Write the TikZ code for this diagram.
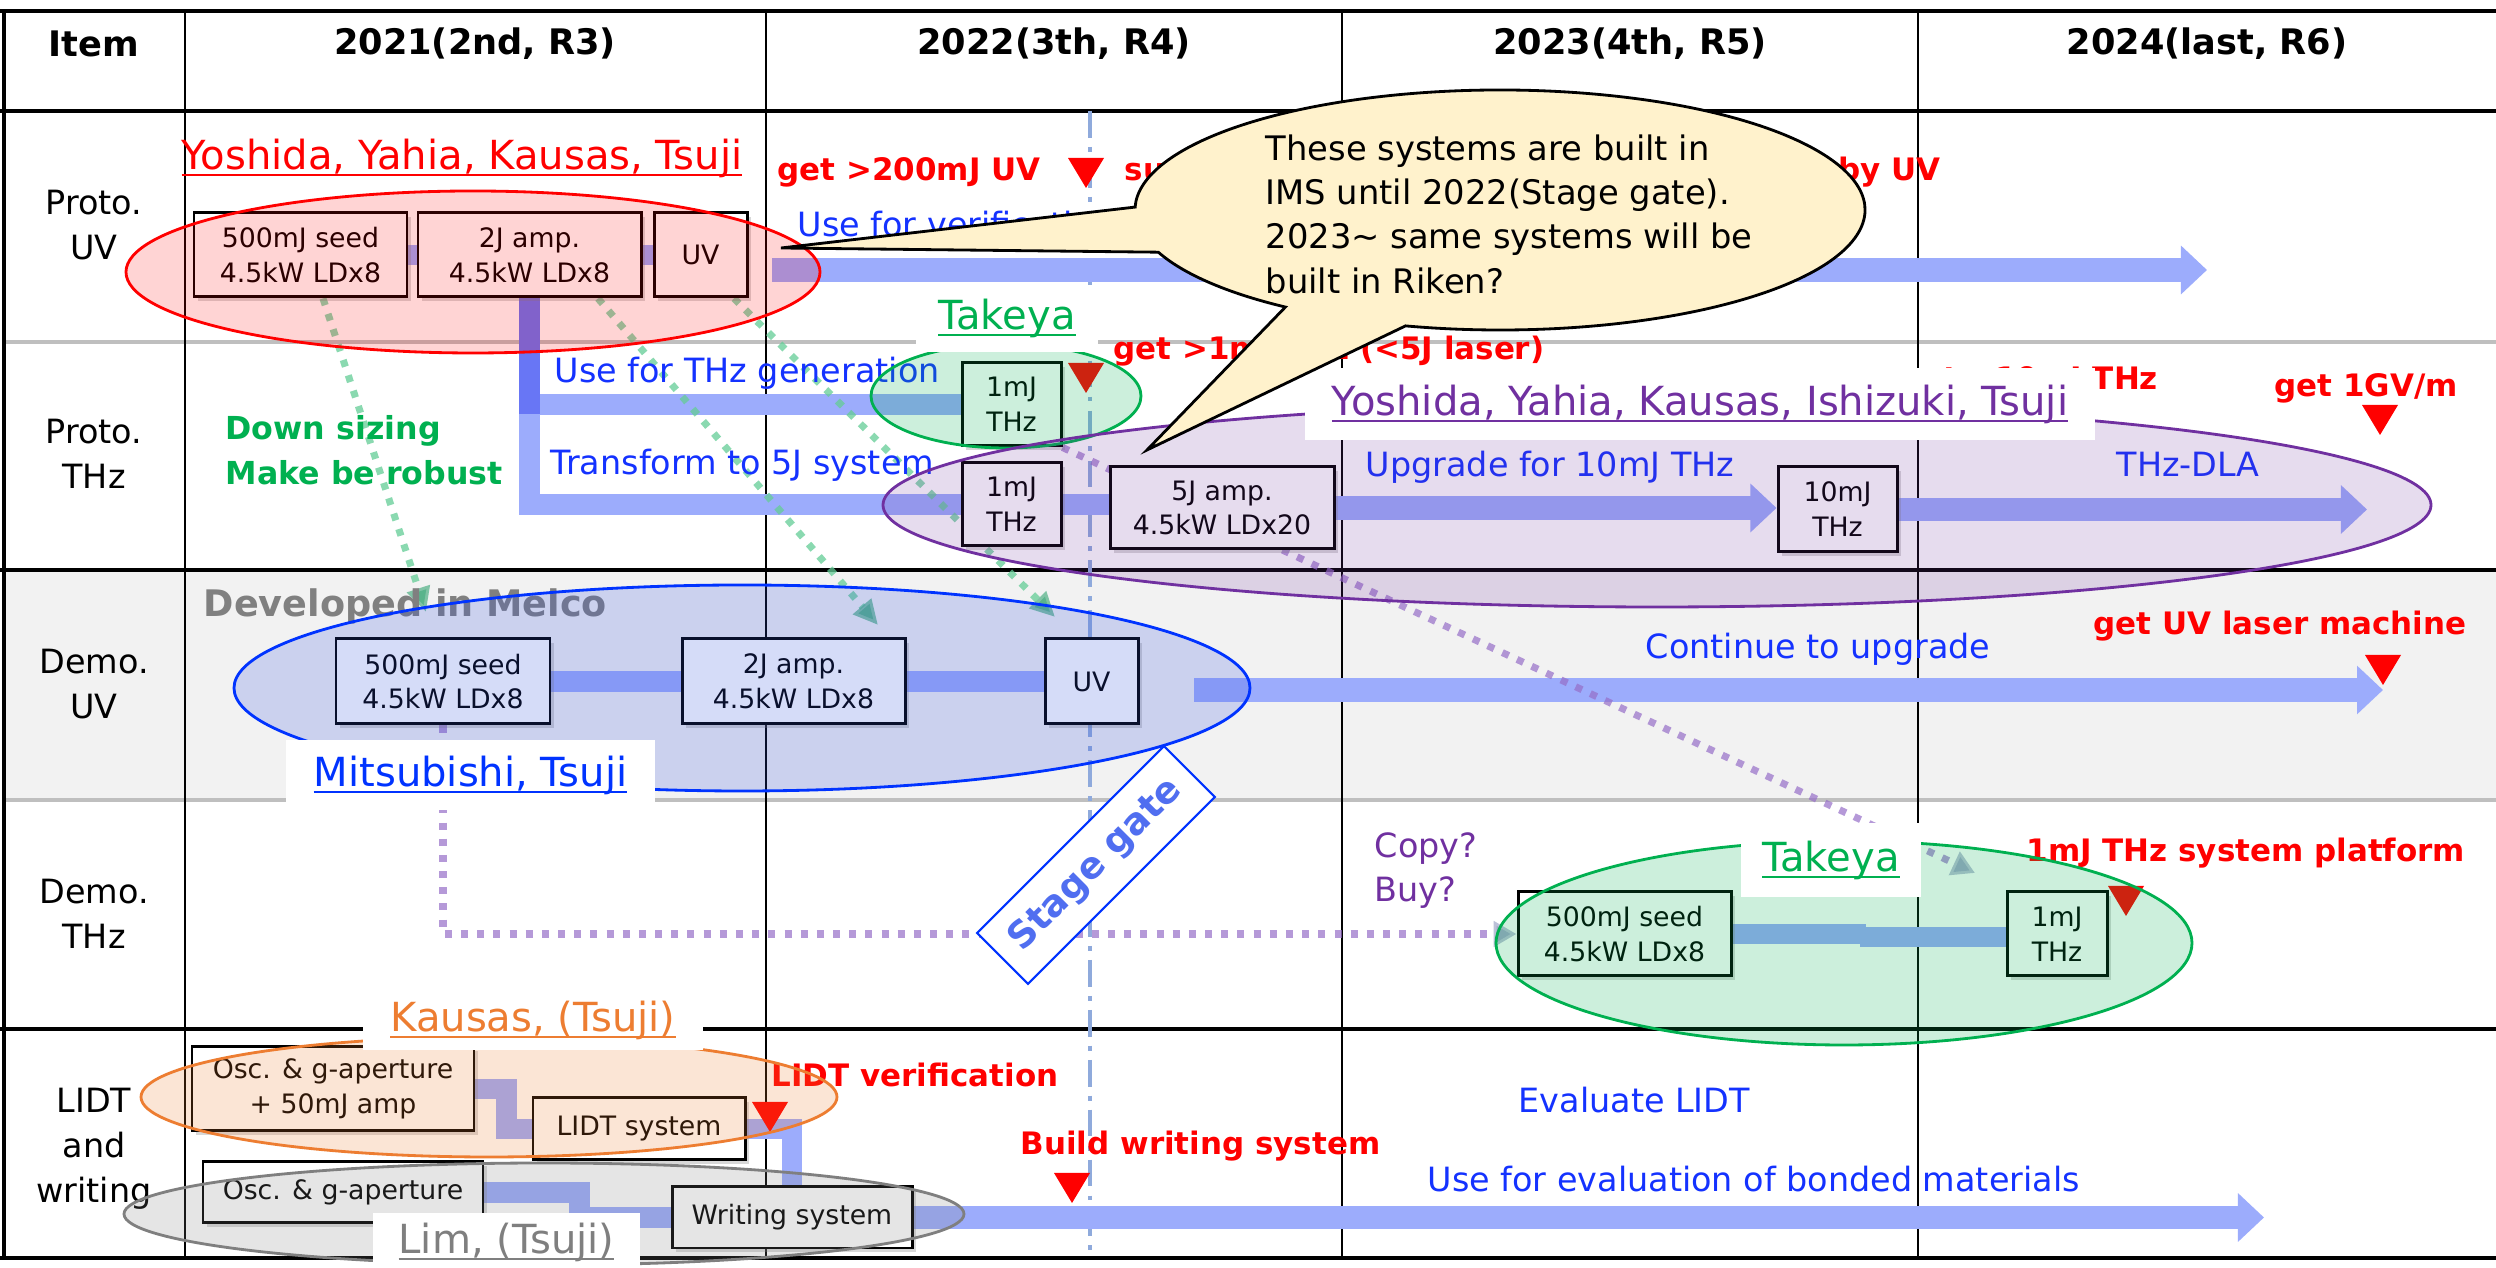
\documentclass[tikz,border=0pt]{standalone}
\usepackage{fontspec}
\setmainfont{DejaVu Sans}
\setsansfont{DejaVu Sans}
\usetikzlibrary{arrows.meta,calc,shadows}

\definecolor{bandblue}{RGB}{156,172,252}
\definecolor{banddeep}{RGB}{104,118,245}
\definecolor{txtblue}{RGB}{20,50,255}
\definecolor{mkred}{RGB}{255,0,0}
\definecolor{ogreen}{RGB}{0,176,80}
\definecolor{opurple}{RGB}{112,48,160}
\definecolor{oorange}{RGB}{237,125,49}
\definecolor{ogray}{RGB}{127,127,127}
\definecolor{eblue}{RGB}{0,51,255}
\definecolor{eblfill}{RGB}{48,80,224}
\definecolor{rowgray}{RGB}{242,242,242}
\definecolor{gridgray}{RGB}{191,191,191}
\definecolor{gatecol}{RGB}{143,170,220}
\definecolor{calloutfill}{RGB}{255,242,204}
\definecolor{dotgreen}{RGB}{100,205,150}
\definecolor{tipgreen}{RGB}{90,180,140}
\definecolor{dotpurple}{RGB}{150,110,200}
\definecolor{tipgray}{RGB}{160,168,200}
\definecolor{sgtext}{RGB}{80,110,240}
\definecolor{melcogray}{RGB}{128,128,128}

% underline set just below the baseline
\newcommand{\nameul}[1]{\setbox0\hbox{#1}\rlap{\rule[-1.9pt]{\wd0}{0.6pt}}\box0}
% downward red milestone marker
\newcommand{\redmark}[2]{\fill[mkred] (#1-18,#2-15) -- (#1+18,#2-15) -- (#1,#2+15) -- cycle;}

\pgfdeclarelayer{gridlayer}
\pgfdeclarelayer{bandlayer}
\pgfdeclarelayer{elllayer}
\pgfdeclarelayer{taglayer}
\pgfdeclarelayer{toplayer}
\pgfsetlayers{gridlayer,bandlayer,main,elllayer,taglayer,toplayer}

\tikzset{
  hdr/.style={font=\bfseries\fontsize{10}{12}\selectfont, inner sep=0pt},
  rowlbl/.style={font=\fontsize{9.5}{12.75}\selectfont, align=center, inner sep=0pt},
  sysbox/.style={draw=black, line width=0.85pt, fill=white, inner sep=0pt, align=center,
    font=\fontsize{7.6}{9.9}\selectfont,
    drop shadow={shadow xshift=1pt, shadow yshift=-1pt, opacity=0.3}},
  bsize/.style 2 args={minimum width=#1*0.01cm, minimum height=#2*0.01cm},
  bluetxt/.style={text=txtblue, font=\fontsize{9.5}{12}\selectfont, anchor=base west, inner sep=0pt},
  redtxt/.style={text=mkred, font=\bfseries\fontsize{8.8}{11}\selectfont, anchor=base west, inner sep=0pt},
  greentxt/.style={text=ogreen, font=\bfseries\fontsize{9}{11}\selectfont, anchor=base west, inner sep=0pt},
  purpletxt/.style={text=opurple, font=\fontsize{9.5}{12}\selectfont, anchor=base west, inner sep=0pt},
  nametag/.style={fill=white, inner sep=0pt, font=\fontsize{11.4}{13}\selectfont},
  bandline/.style={draw=bandblue, line width=5.7pt},
  banddark/.style={draw=banddeep, line width=5.7pt},
  bandarrow/.style={draw=bandblue, line width=6.8pt, -{Triangle[length=7.4pt,width=13.4pt]}},
  gdot/.style={draw=dotgreen, draw opacity=0.75, line width=2pt, dash pattern=on 2pt off 2.6pt,
    -{Triangle[length=7pt,width=6.5pt,color=tipgreen]}},
  pdot/.style={draw=dotpurple, draw opacity=0.7, line width=2pt, dash pattern=on 2pt off 2.6pt,
    -{Triangle[length=6.5pt,width=7pt,color=tipgray]}},
  ring/.style={line width=0.8pt},
}

\begin{document}
\begin{tikzpicture}[x=0.01cm, y=-0.01cm]
\useasboundingbox (0,0) rectangle (2496,1268);

% ---------- table grid ----------
\begin{pgfonlayer}{gridlayer}
  \fill[white] (0,0) rectangle (2496,1268);
  \fill[rowgray] (4,570) rectangle (2496,800);
  \draw[gridgray, line width=0.9pt] (4,342) -- (2496,342) (4,800) -- (2496,800);
  \foreach \xx in {185,766,1342,1918} \draw[line width=0.45pt] (\xx,11) -- (\xx,1258);
  \draw[line width=1.1pt] (0,11) -- (2496,11) (0,111) -- (2496,111) (0,570) -- (2496,570)
        (0,1029) -- (2496,1029) (0,1258) -- (2496,1258);
  \draw[line width=0.9pt] (4,11) -- (4,1258);
  % stage gate time line
  \draw[gatecol, line width=1pt, dash pattern=on 7.6pt off 2.6pt on 1.4pt off 2.6pt] (1090,111) -- (1090,1258);
\end{pgfonlayer}

% ---------- header and row titles ----------
\node[hdr] (h0) at (94,44) {Item};
\node[hdr] (h1) at (475,44) {2021(2nd, R3)};
\node[hdr] (h2) at (1054,44) {2022(3th, R4)};
\node[hdr] (h3) at (1630,44) {2023(4th, R5)};
\node[hdr] (h4) at (2207,44) {2024(last, R6)};

\node[rowlbl] (r1) at (94,225) {Proto.\\UV};
\node[rowlbl] (r2) at (94,454) {Proto.\\THz};
\node[rowlbl] (r3) at (94,684) {Demo.\\UV};
\node[rowlbl] (r4) at (94,914) {Demo.\\THz};
\node[rowlbl] (r5) at (94,1149) {LIDT\\and\\writing};

% ---------- system boxes ----------
\node[sysbox, bsize={213}{84}] (pseed) at (300.5,255) {500mJ seed\\4.5kW LDx8};
\node[sysbox, bsize={223}{84}] (pamp) at (529.5,255) {2J amp.\\4.5kW LDx8};
\node[sysbox, bsize={93}{84}] (puv) at (700.5,255) {UV};
\node[sysbox, bsize={99}{83}] (thzA) at (1011.5,404.5) {1mJ\\THz};
\node[sysbox, bsize={99}{83}] (thzB) at (1011.5,504.5) {1mJ\\THz};
\node[sysbox, bsize={224}{82}] (amp5) at (1222,508) {5J amp.\\4.5kW LDx20};
\node[sysbox, bsize={119}{85}] (thz10) at (1837.5,509.5) {10mJ\\THz};
\node[sysbox, bsize={214}{85}] (dseed) at (443,681.5) {500mJ seed\\4.5kW LDx8};
\node[sysbox, bsize={223}{85}] (damp) at (793.5,681.5) {2J amp.\\4.5kW LDx8};
\node[sysbox, bsize={93}{85}] (duv) at (1091.5,681.5) {UV};
\node[sysbox, bsize={213}{84}] (tseed) at (1624.5,934) {500mJ seed\\4.5kW LDx8};
\node[sysbox, bsize={100}{84}] (tthz) at (2057,934) {1mJ\\THz};
\node[sysbox, bsize={282}{84}] (losc) at (333,1089) {Osc. \& g-aperture\\+ 50mJ amp};
\node[sysbox, bsize={212}{62}] (lidt) at (639,1129) {LIDT system};
\node[sysbox, bsize={280}{61}] (wosc) at (343,1192.5) {Osc. \& g-aperture};
\node[sysbox, bsize={240}{61}] (writ) at (792,1217.5) {Writing system};

% ---------- free arrow ends ----------
\coordinate (uvA) at (772,270);
\coordinate (uvB) at (2207,270);
\coordinate (dlaEnd) at (2367,511);
\coordinate (duvA) at (1194,690);
\coordinate (duvB) at (2383,690);
\coordinate (wEnd) at (2264,1217.5);
\coordinate (g1e) at (426,612);
\coordinate (g2e) at (878,625);
\coordinate (g3e) at (1055,617);
\coordinate (pdEnd) at (1975,873);

% ---------- beam bands and dotted links ----------
\begin{pgfonlayer}{bandlayer}
  \draw[bandline] (pseed.east) -- (pamp.west);
  \draw[bandline] (pamp.east) -- (puv.west);
  \draw[bandarrow] (uvA) -- (uvB);
  \draw[bandline] (pamp.south) |- (thzB.west);
  \draw[bandline] (pamp.south) |- (thzA.west);
  \draw[banddark] (pamp.south) -- ($(pamp.south |- thzA.west)+(0,10)$);
  \draw[bandline] (thzB.east) -- (thzB.east -| amp5.west);
  \draw[bandarrow] (amp5.east) -- (amp5.east -| thz10.west);
  \draw[bandarrow] (thz10.east) -- (thz10.east -| dlaEnd);
  \draw[bandline] (dseed.east) -- (damp.west);
  \draw[bandline] (damp.east) -- (duv.west);
  \draw[bandarrow] (duvA) -- (duvB);
  \draw[bandline] (tseed.east) -- ++(133,0);
  \draw[bandline] ($(tthz.west)+(-146,3)$) -- ($(tthz.west)+(0,3)$);
  \draw[bandline] (losc.east) -- ++(31,0) |- (lidt.west);
  \draw[bandline] (lidt.east) -| (writ.north);
  \draw[bandline] (wosc.east) -- ++(95,0) |- (writ.west);
  \draw[bandarrow] (writ.east) -- (wEnd);

  \draw[gdot] ($(pseed.south)+(22.5,0)$) -- (g1e);
  \draw[gdot] ($(pamp.south)+(68.5,0)$) -- (g2e);
  \draw[gdot] ($(puv.south)+(33.5,0)$) -- (g3e);
  \draw[pdot] (dseed.south) |- (tseed.west);
  \draw[pdot] (thzA.south east) -- (pdEnd);
\end{pgfonlayer}

% ---------- annotations ----------
\node[redtxt] (tA) at (777,181) {get >200mJ UV};
\node[redtxt] (tB) at (1124,181) {\hbox to 232pt{succeeded\hfill by UV}};
\node[bluetxt] (bA) at (797,237) {Use for verification};
\node[redtxt] (tC) at (1113,360) {get >1mJ THz (<5J laser)};
\node[redtxt] (tD) at (1900,390) {get >10mJ THz};
\node[redtxt] (tE) at (2274,397) {get 1GV/m};
\node[bluetxt] (bB) at (554,383) {Use for THz generation};
\node[bluetxt] (bC) at (550,475) {Transform to 5J system};
\node[bluetxt] (bD) at (1365,477) {Upgrade for 10mJ THz};
\node[bluetxt] (bE) at (2116,477) {THz-DLA};
\node[greentxt] (gA) at (225,440) {Down sizing};
\node[greentxt] (gB) at (225,485) {Make be robust};
\node[anchor=base west, inner sep=0pt, text=melcogray, font=\bfseries\fontsize{10.4}{12}\selectfont] (melco) at (203,617) {Developed in Melco};
\node[redtxt] (tF) at (2093,635) {get UV laser machine};
\node[bluetxt] (bF) at (1645,659) {Continue to upgrade};
\node[purpletxt] (cA) at (1374,858) {Copy?};
\node[purpletxt] (cB) at (1374,902) {Buy?};
\node[redtxt] (tG) at (2026,862) {1mJ THz system platform};
\node[redtxt] (tH) at (771,1087) {LIDT verification};
\node[redtxt] (tI) at (1020,1155) {Build writing system};
\node[bluetxt] (bG) at (1518,1113) {Evaluate LIDT};
\node[bluetxt] (bH) at (1427,1192) {Use for evaluation of bonded materials};

\redmark{1086}{173}
\redmark{1086}{378}
\redmark{2380}{420}
\redmark{2383}{670}
\redmark{2126}{901}
\redmark{770}{1117}
\redmark{1072}{1188}

% ---------- team groupings ----------
\begin{pgfonlayer}{elllayer}
  \draw[ring, draw=mkred, fill=mkred, fill opacity=0.17] (473,272) ellipse [x radius=347, y radius=81];
  \draw[ring, draw=ogreen, fill=ogreen, fill opacity=0.2] (1006,396) ellipse [x radius=135, y radius=52];
  \draw[ring, draw=opurple, fill=opurple, fill opacity=0.17] (1657,505) ellipse [x radius=774, y radius=102];
  \draw[ring, draw=eblue, fill=eblfill, fill opacity=0.2] (742,688) ellipse [x radius=508, y radius=103];
  \draw[ring, draw=ogreen, fill=ogreen, fill opacity=0.2] (1844,943) ellipse [x radius=348, y radius=102];
  \draw[ring, draw=oorange, fill=oorange, fill opacity=0.2] (489,1097) ellipse [x radius=348, y radius=60];
  \draw[ring, draw=ogray, fill=melcogray, fill opacity=0.2] (544,1214) ellipse [x radius=420, y radius=51];
\end{pgfonlayer}

% ---------- member names ----------
\begin{pgfonlayer}{taglayer}
  \node[nametag, fill=none, text=mkred] (n1) at (462,158) {\nameul{Yoshida, Yahia, Kausas, Tsuji}};
  \node[nametag, text=ogreen, bsize={182}{67}] (n2) at (1007,318.5) {\nameul{Takeya}};
  \node[nametag, text=opurple, bsize={790}{72}] (n3) at (1700,404) {\nameul{Yoshida, Yahia, Kausas, Ishizuki, Tsuji}};
  \node[nametag, text=eblue, bsize={369}{70}] (n4) at (470.5,775) {\nameul{Mitsubishi, Tsuji}};
  \node[nametag, text=ogreen, bsize={180}{74}] (n5) at (1831,860) {\nameul{Takeya}};
  \node[nametag, text=oorange, bsize={340}{60}] (n6) at (533,1020) {\nameul{Kausas, (Tsuji)}};
  \node[nametag, text=ogray, bsize={267}{58}] (n7) at (506.5,1242) {\nameul{Lim, (Tsuji)}};
\end{pgfonlayer}

% ---------- stage gate and remark bubble ----------
\begin{pgfonlayer}{toplayer}
  \node[draw=eblue, line width=0.6pt, fill=white, rotate=45, minimum width=2.64cm, minimum height=0.72cm,
        inner sep=0pt, text=sgtext, font=\bfseries\fontsize{10.5}{12}\selectfont] (sg) at (1096,865) {Stage gate};
  \draw[line width=0.8pt, fill=calloutfill] (1135.1,207.1) -- (781,248) -- (1158.3,252.2)
     arc[start angle=159.4, end angle=126, x radius=365, y radius=120] -- (1147,450) -- (1405.5,325.9)
     arc[start angle=105, end angle=-178.6, x radius=365, y radius=120] -- cycle;
  \node[anchor=west, align=left, inner sep=0pt, font=\fontsize{9.6}{12.6}\selectfont] (cnote) at (1265,214)
     {These systems are built in\\IMS until 2022(Stage gate).\\2023\textasciitilde{} same systems will be\\built in Riken?};
\end{pgfonlayer}
\end{tikzpicture}
\end{document}
